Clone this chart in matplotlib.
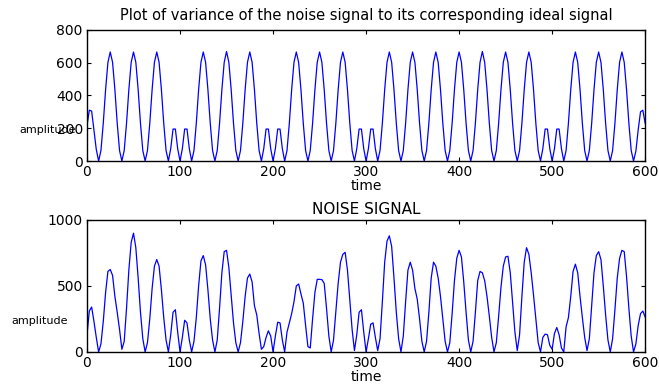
import numpy as np
import matplotlib

matplotlib.use("Agg")
import matplotlib.pyplot as plt

# sample grid of the time axis (step 2.5)
time = np.arange(0, 600.1, 2.5)

# variance of the noise signal (one row per 25-unit cell)
variance = [
    215, 310, 305, 190, 70, 0,                        # 0 .. 12.5
    64, 230, 435, 602, 665, 602, 435, 230, 64, 0,     # 25
    64, 230, 435, 602, 665, 602, 435, 230, 64, 0,     # 50
    64, 230, 435, 602, 665, 602, 435, 230, 64, 0,     # 75
    75, 195, 195, 75, 0, 75, 195, 195, 75, 0,         # 100
    64, 230, 435, 602, 665, 602, 435, 230, 64, 0,     # 125
    64, 230, 435, 602, 668, 602, 435, 230, 64, 0,     # 150
    64, 230, 435, 602, 665, 602, 435, 230, 64, 0,     # 175
    75, 195, 195, 75, 0, 75, 195, 195, 75, 0,         # 200
    64, 230, 435, 602, 665, 602, 435, 230, 64, 0,     # 225
    64, 230, 435, 602, 665, 602, 435, 230, 64, 0,     # 250
    64, 230, 435, 602, 665, 602, 435, 230, 64, 0,     # 275
    75, 195, 195, 75, 0, 75, 195, 195, 75, 0,         # 300
    64, 230, 435, 602, 665, 602, 435, 230, 64, 0,     # 325
    64, 230, 435, 602, 665, 602, 435, 230, 64, 0,     # 350
    64, 230, 435, 602, 665, 602, 435, 230, 64, 0,     # 375
    64, 230, 435, 602, 665, 602, 435, 230, 64, 0,     # 400
    64, 230, 435, 602, 668, 602, 435, 230, 64, 0,     # 425
    64, 230, 435, 602, 665, 602, 435, 230, 64, 0,     # 450
    64, 230, 435, 602, 665, 602, 435, 230, 64, 0,     # 475
    75, 195, 195, 75, 0, 75, 195, 195, 75, 0,         # 500
    64, 230, 435, 602, 665, 602, 435, 230, 64, 0,     # 525
    64, 230, 435, 602, 665, 602, 435, 230, 64, 0,     # 550
    64, 230, 435, 602, 665, 602, 435, 230, 64, 0,     # 575
    60, 190, 300, 310, 230,                           # 590 .. 600
]

# noise signal
noise = [
    130, 310, 340, 230, 110, 0,                       # 0 .. 12.5
    60, 230, 450, 610, 625, 580, 420, 300, 170, 20,   # 25
    80, 330, 620, 830, 900, 790, 560, 300, 100, 0,    # 50
    70, 250, 480, 650, 700, 650, 470, 260, 90, 0,     # 75
    130, 300, 320, 150, 0, 110, 240, 220, 90, 0,      # 100
    80, 260, 500, 690, 730, 660, 470, 250, 90, 0,     # 125
    90, 330, 600, 760, 770, 640, 430, 220, 70, 0,     # 150
    70, 230, 420, 560, 590, 530, 350, 280, 140, 20,   # 175
    40, 110, 160, 120, 0, 120, 225, 220, 90, 0,       # 200
    150, 220, 290, 380, 500, 515, 440, 370, 200, 40,  # 225
    30, 250, 450, 550, 550, 548, 520, 330, 120, 0,    # 250
    90, 300, 520, 680, 740, 755, 620, 400, 170, 10,   # 275
    130, 300, 320, 150, 0, 100, 210, 220, 110, 10,    # 300
    100, 380, 680, 840, 880, 800, 560, 300, 100, 0,   # 325
    120, 380, 620, 680, 620, 480, 400, 250, 80, 0,    # 350
    80, 300, 560, 680, 650, 560, 420, 250, 80, 0,     # 375
    70, 290, 540, 710, 770, 720, 530, 300, 90, 0,     # 400
    80, 300, 540, 610, 600, 540, 420, 270, 110, 0,    # 425
    70, 270, 490, 650, 720, 725, 600, 380, 150, 10,   # 450
    130, 420, 680, 790, 740, 600, 430, 250, 70, 0,    # 475
    110, 135, 130, 50, 20, 140, 185, 130, 30, 0,      # 500
    190, 260, 420, 610, 665, 600, 420, 260, 110, 10,  # 525
    100, 350, 600, 730, 760, 700, 500, 280, 90, 0,    # 550
    100, 320, 560, 710, 770, 760, 570, 330, 120, 0,   # 575
    60, 200, 290, 310, 265,                           # 590 .. 600
]

x_ticks = [0, 100, 200, 300, 400, 500, 600]
top_y_ticks = [0, 200, 400, 600, 800]
bottom_y_ticks = [0, 500, 1000]


def style_axes(ax, y_ticks, y_max):
    """MATLAB-like boxed axes with inward ticks."""
    ax.set_xlim(0, 600)
    ax.set_ylim(0, y_max)
    ax.set_xticks(x_ticks)
    ax.set_yticks(y_ticks)
    ax.tick_params(direction="in", top=True, right=True, length=3, width=0.8,
                   labelsize=10, pad=3)
    for spine in ax.spines.values():
        spine.set_linewidth(1.0)
    ax.set_xlabel("time", fontsize=10, labelpad=0)
    ax.set_ylabel("amplitude", fontsize=8, rotation=0, labelpad=0)


fig = plt.figure(figsize=(6.59, 3.88), dpi=100)
ax_top = fig.add_axes([0.132, 0.585, 0.847, 0.338])
ax_bottom = fig.add_axes([0.132, 0.093, 0.847, 0.340])

ax_top.plot(time, variance, color="#0000FF", linewidth=0.9)
style_axes(ax_top, top_y_ticks, 800)
ax_top.set_title("Plot of variance of the noise signal to its corresponding ideal signal",
                 fontsize=10.5, pad=7)
ax_top.yaxis.set_label_coords(-0.070, 0.20)

ax_bottom.plot(time, noise, color="#0000FF", linewidth=0.9)
style_axes(ax_bottom, bottom_y_ticks, 1000)
ax_bottom.set_title("NOISE SIGNAL", fontsize=11, pad=4)
ax_bottom.yaxis.set_label_coords(-0.085, 0.20)

fig.savefig("out.png", dpi=100)
